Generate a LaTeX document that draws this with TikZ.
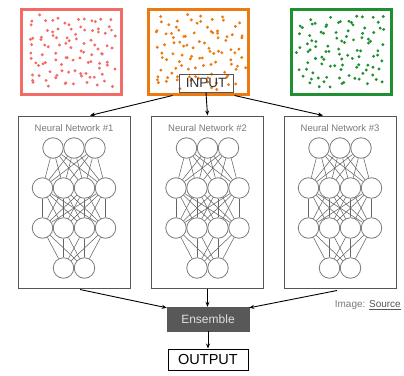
\documentclass[tikz,border=0pt]{standalone}
\usepackage{fontspec}
\setmainfont{Liberation Sans}
\usetikzlibrary{arrows.meta,calc}
\definecolor{cred}{HTML}{F26B66}
\definecolor{corange}{HTML}{EC7A10}
\definecolor{cgreen}{HTML}{1F8F2F}
\definecolor{ngray}{HTML}{7A7A7A}
\definecolor{egray}{HTML}{666666}
\definecolor{bgray}{HTML}{555555}
\definecolor{tgray}{HTML}{333333}
\definecolor{ensg}{HTML}{585858}
\tikzset{
  sq/.style={draw=#1, line width=3pt, minimum width=100pt, minimum height=85pt, inner sep=0pt},
  neuron/.style={circle, draw=ngray, line width=0.8pt, minimum size=20.5pt, inner sep=0pt},
  edge/.style={draw=egray, line width=0.55pt},
  nnbox/.style={draw=bgray, line width=1pt, minimum width=112pt, minimum height=172pt, inner sep=0pt},
  nntitle/.style={text=ngray, font=\fontsize{9.5}{11}\selectfont, inner sep=0pt},
  conn/.style={draw=black, line width=0.9pt, -{Stealth[length=5pt,width=4pt]}},
}
\begin{document}
\begin{tikzpicture}[x=1pt,y=-1pt]
\useasboundingbox (0,0) rectangle (404,375);
\fill[white] (0,0) rectangle (404,375);
% top squares
\node[sq=cred] (sqR) at (71,51.5) {};
\node[sq=corange] (sqO) at (198.5,51.5) {};
\node[sq=cgreen] (sqG) at (341,51.5) {};
\pgfmathsetseed{11}
\foreach \cx/\col/\off in {71/cred/0.13,198.5/corange/0.47,341/cgreen/0.81}{
  \foreach \d in {1,...,100}{
    \pgfmathsetmacro\ux{mod(\off+\d*0.7548776662,1)}
    \pgfmathsetmacro\uy{mod(\off*0.6+\d*0.5698402910,1)}
    \pgfmathsetmacro\dx{\ux*88-44+rand*3.5}
    \pgfmathsetmacro\dy{\uy*72-36+rand*3.5}
    \fill[\col] (\cx+\dx,51.5+\dy) circle (1.6pt);
  }
}
% input
\node[draw=bgray, line width=1pt, minimum width=54pt, minimum height=18pt, inner sep=0pt,
      text=tgray, font=\fontsize{13.5}{16}\selectfont] (inp) at (206,83) {INPUT};
% boxes
\foreach \k/\cx in {1/74,2/207.5,3/340}{
  \node[nnbox] (nn\k) at (\cx,202) {};
  \node[nntitle] (t\k) at (\cx,128) {Neural Network \#\k};
  \foreach \l/\n/\y in {1/3/148,2/4/188,3/4/228,4/2/268}{
    \foreach \i in {1,...,\n}{
      \node[neuron] (n\k-\l-\i) at ({\cx+(\i-(\n+1)/2)*21},\y) {};
    }
  }
  \foreach \i in {1,2,3}{\foreach \j in {1,...,4}{\draw[edge] (n\k-1-\i) -- (n\k-2-\j);}}
  \foreach \i in {1,...,4}{\foreach \j in {1,...,4}{\draw[edge] (n\k-2-\i) -- (n\k-3-\j);}}
  \foreach \i in {1,...,4}{\foreach \j in {1,2}{\draw[edge] (n\k-3-\i) -- (n\k-4-\j);}}
}
% ensemble and output
\node[fill=ensg, draw=ensg, minimum width=82pt, minimum height=24pt, inner sep=0pt,
      text=white!88!black, font=\fontsize{12}{14}\selectfont] (ens) at (208,319) {Ensemble};
\node[draw=black, line width=1pt, minimum width=80pt, minimum height=21pt, inner sep=0pt,
      font=\fontsize{14.5}{16}\selectfont] (out) at (208,359.5) {OUTPUT};
\node[font=\fontsize{10}{12}\selectfont, inner sep=0pt, text=ngray, anchor=east] (src) at (401,305)
  {Image: \textcolor{bgray}{\underline{Source}}};
% connectors
\draw[conn] ($(inp.south west)+(-6,3)$) -- ($(nn1.north)+(16,0)$);
\draw[conn] (inp.south) -- (nn2.north);
\draw[conn] ($(inp.south east)+(1,3)$) -- ($(nn3.north)+(-17,0)$);
\draw[conn] ($(nn1.south)+(6,1)$) -- ($(ens.north west)+(0,1)$);
\draw[conn] (nn2.south) -- (ens.north-|nn2.south);
\draw[conn] ($(nn3.south)+(-3,2)$) -- ($(ens.north east)+(0,1)$);
\draw[conn] (ens.south) -- (out.north);
\end{tikzpicture}
\end{document}
